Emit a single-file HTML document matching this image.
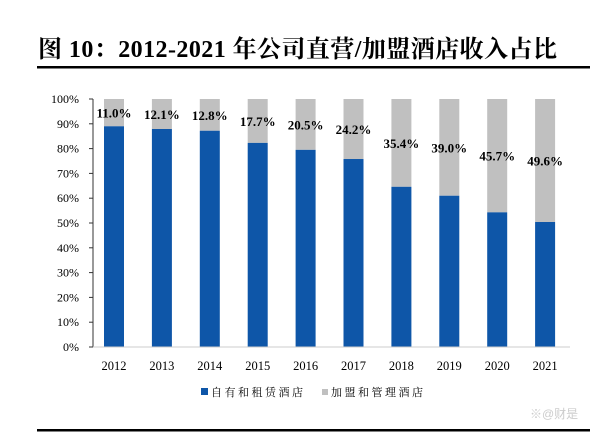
<!DOCTYPE html>
<html><head><meta charset="utf-8"><style>
body{margin:0;background:#fff;width:609px;height:439px;overflow:hidden;font-family:"Liberation Serif","Noto Serif CJK SC",serif}
</style></head><body>
<svg width="609" height="439">
<text x="38" y="57" font-size="24" font-weight="bold" textLength="519" lengthAdjust="spacing" font-family="Liberation Serif,'Noto Serif CJK SC',serif">图 10：2012-2021 年公司直营/加盟酒店收入占比</text>
<rect x="37" y="66" width="553" height="2.5" fill="#000"/>
<g id="plot"></g>
<g>
<rect x="201" y="388" width="7" height="7" fill="#0e56a8"/>
<text x="211" y="396" font-size="11" textLength="92" font-family="'Noto Serif CJK SC',serif">自有和租赁酒店</text>
<rect x="322" y="389" width="6" height="6" fill="#c0c0c0"/>
<text x="331" y="396" font-size="11" textLength="92" font-family="'Noto Serif CJK SC',serif">加盟和管理酒店</text>
</g>
<text x="530" y="418" font-size="12" fill="#ccc" font-family="'Liberation Sans','Noto Sans CJK SC',sans-serif">※@财是</text>
<rect x="37" y="429" width="553" height="2.5" fill="#000"/>
</svg>
<script>
const years=['2012','2013','2014','2015','2016','2017','2018','2019','2020','2021'];
const franchise=[11.0,12.1,12.8,17.7,20.5,24.2,35.4,39.0,45.7,49.6];
const yTicks=[0,10,20,30,40,50,60,70,80,90,100];
const NS='http://www.w3.org/2000/svg';
const g=document.getElementById('plot');
const y=v=>347-v*2.48;
const x=i=>114+i*47.9;
function el(t,a,txt){const e=document.createElementNS(NS,t);for(const k in a)e.setAttribute(k,a[k]);if(txt!=null)e.textContent=txt;g.appendChild(e);return e;}
let ax=el('line',{x1:93,y1:y(0),x2:93,y2:y(100),stroke:'#333','stroke-width':1});


yTicks.forEach(t=>{
 const tk=el('line',{x1:89,x2:93,y1:y(t),y2:y(t),stroke:'#333'});
 
 
 const l=el('text',{x:79,y:y(t)+4,'font-size':12,'text-anchor':'end'},t+'%');
 
 
});
years.forEach((yr,i)=>{
 const f=franchise[i],o=100-f,w=20;
 const gb=el('rect',{x:x(i)-w/2,y:y(100),width:w,height:y(o)-y(100),fill:'#c0c0c0'});
 
 
 const bb=el('rect',{x:x(i)-w/2,y:y(o),width:w,height:y(0)-y(o),fill:'#0e56a8'});
 
 
 const lb=el('text',{x:x(i),y:(y(100)+y(o))/2+5,'font-size':13,'font-weight':'bold','text-anchor':'middle'},f.toFixed(1)+'%');
 
 
 const xl=el('text',{x:x(i),y:370,'font-size':12.5,'text-anchor':'middle'},yr);
 
 
});
const base=el('line',{x1:93,x2:570,y1:y(0),y2:y(0),stroke:'#ccc'});


</script>
</body></html>
